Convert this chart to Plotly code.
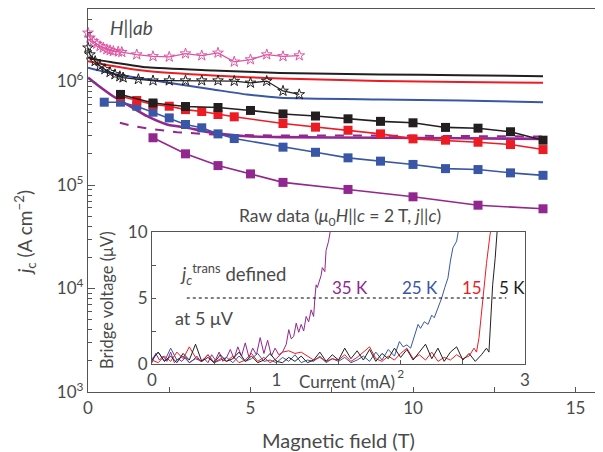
import plotly.graph_objects as go

# ---------------- main panel data: jc vs magnetic field ----------------
field_pink_star = [0.0, 0.06, 0.16, 0.27, 0.37, 0.47, 0.58, 0.68, 0.78, 0.93, 1.04, 1.5, 2.0, 2.5, 3.0, 3.5, 4.0, 4.5, 5.0, 5.5, 6.0, 6.5]
jc_pink_star = [2.95e6, 2.64e6, 2.45e6, 2.31e6, 2.19e6, 2.12e6, 2.04e6, 2.0e6, 1.96e6, 1.94e6, 1.92e6, 1.82e6, 1.75e6, 1.73e6, 1.86e6, 1.78e6, 1.89e6, 1.55e6, 1.63e6, 1.82e6, 1.75e6, 1.78e6]

field_black_star = [0.0, 0.06, 0.22, 0.37, 0.52, 0.68, 0.83, 0.98, 1.08, 1.55, 2.0, 2.5, 3.0, 3.5, 4.0, 4.5, 5.0, 5.5, 6.0, 6.5]
jc_black_star = [2.12e6, 1.82e6, 1.57e6, 1.41e6, 1.31e6, 1.23e6, 1.17e6, 1.12e6, 1.09e6, 1.05e6, 1.02e6, 1.02e6, 1.02e6, 1.02e6, 1.02e6, 1.01e6, 0.97e6, 1.01e6, 0.81e6, 0.75e6]

field_black_line = [0.0, 0.37, 0.77, 1.82, 3.85, 5.91, 8.98, 11.45, 14.0]
jc_black_line = [1.71e6, 1.6e6, 1.53e6, 1.37e6, 1.28e6, 1.21e6, 1.17e6, 1.15e6, 1.125e6]
field_red_line = [0.0, 0.77, 1.82, 3.85, 5.91, 8.98, 11.45, 14.0]
jc_red_line = [1.57e6, 1.41e6, 1.26e6, 1.14e6, 1.07e6, 1.01e6, 0.99e6, 0.97e6]
field_blue_line = [0.0, 0.77, 1.82, 2.83, 3.85, 4.89, 5.91, 8.98, 11.45, 14.0]
jc_blue_line = [1.36e6, 1.19e6, 1.05e6, 0.935e6, 0.837e6, 0.749e6, 0.696e6, 0.67e6, 0.655e6, 0.631e6]
field_purple_line = [0.0, 0.27, 0.77, 1.29, 1.82, 2.43, 3.05, 3.85, 4.89, 5.91, 8.98, 11.45, 14.0]
jc_purple_line = [1.09e6, 0.935e6, 0.72e6, 0.577e6, 0.462e6, 0.384e6, 0.357e6, 0.319e6, 0.296e6, 0.29e6, 0.286e6, 0.283e6, 0.279e6]
field_purple_dash = [0.98, 1.29, 1.91, 2.74, 3.85, 5.91, 8.98, 11.45, 14.0]
jc_purple_dash = [0.4e6, 0.376e6, 0.349e6, 0.324e6, 0.307e6, 0.3e6, 0.3e6, 0.297e6, 0.294e6]

field_black_sq = [1, 2, 3, 4, 5, 6, 7, 8, 9, 10, 11, 12, 13, 14]
jc_black_sq = [0.75e6, 0.62e6, 0.573e6, 0.561e6, 0.525e6, 0.486e6, 0.464e6, 0.436e6, 0.412e6, 0.399e6, 0.36e6, 0.354e6, 0.327e6, 0.271e6]
field_red_sq = [1, 1.5, 2, 2.5, 3, 3.5, 4, 4.5, 6, 7, 8, 9, 10, 11, 12, 13, 14]
jc_red_sq = [0.72e6, 0.655e6, 0.6e6, 0.577e6, 0.535e6, 0.513e6, 0.48e6, 0.456e6, 0.393e6, 0.362e6, 0.338e6, 0.312e6, 0.279e6, 0.271e6, 0.259e6, 0.246e6, 0.22e6]
field_blue_sq = [0.5, 1, 1.5, 2, 2.5, 3, 3.5, 4, 4.5, 6, 7, 8, 9, 10, 11, 12, 13, 14]
jc_blue_sq = [0.631e6, 0.631e6, 0.577e6, 0.505e6, 0.445e6, 0.384e6, 0.357e6, 0.312e6, 0.281e6, 0.232e6, 0.207e6, 0.183e6, 0.17e6, 0.158e6, 0.144e6, 0.141e6, 0.131e6, 0.124e6]
field_purple_sq = [2, 3, 4, 5, 6, 8, 10, 12, 14]
jc_purple_sq = [0.286e6, 0.2e6, 0.154e6, 0.128e6, 0.106e6, 0.0906e6, 0.0769e6, 0.0638e6, 0.0589e6]

main_x_ticks = [0, 5, 10, 15]
main_x_labels = ["0", "5", "10", "15"]
main_y_ticks = [1e3, 1e4, 1e5, 1e6]
main_y_labels = ["10<sup>3</sup>", "10<sup>4</sup>", "10<sup>5</sup>", "10<sup>6</sup>"]

# ---------------- inset data: bridge voltage vs current ----------------
cur_35 = [0.00, 0.03, 0.06, 0.09, 0.12, 0.15, 0.18, 0.21, 0.24, 0.27, 0.30, 0.33, 0.36, 0.39, 0.42, 0.45, 0.48, 0.51, 0.54, 0.57,
          0.60, 0.63, 0.66, 0.69, 0.72, 0.75, 0.78, 0.81, 0.84, 0.87, 0.90, 0.93, 0.96, 0.99, 1.02, 1.05, 1.08,
          1.10, 1.12, 1.14, 1.16, 1.18, 1.20, 1.22, 1.24, 1.26, 1.28, 1.30,
          1.31, 1.32, 1.33, 1.35, 1.36, 1.37, 1.39, 1.40, 1.42, 1.44]
v_35 = [0.1, 0.8, 0.3, 0.6, 0.2, 0.9, 0.1, 0.4, 0.2, 0.5, 0.1, 0.3, 0.6, 0.2, 0.4, 0.1, 0.7, 0.3, 0.9, 0.2,
        0.5, 1.1, 0.4, 1.3, 0.6, 1.6, 0.5, 1.2, 0.7, 2.0, 0.8, 1.8, 0.6, 1.2, 0.7, 0.9, 1.5,
        2.6, 1.9, 2.1, 3.1, 2.4, 3.0, 2.5, 3.6, 3.2, 4.1, 3.6,
        5.0, 6.0, 5.8, 6.4, 6.7, 7.3, 7.0, 8.6, 9.3, 10.4]

cur_25 = [0.00, 0.05, 0.10, 0.15, 0.20, 0.25, 0.30, 0.35, 0.40, 0.45, 0.50, 0.55, 0.60, 0.65, 0.70, 0.75, 0.80, 0.85, 0.90, 0.95,
          1.00, 1.05, 1.10, 1.15, 1.20, 1.25, 1.30, 1.35, 1.40, 1.45, 1.50, 1.55, 1.60, 1.65, 1.70, 1.75, 1.80, 1.85, 1.90, 1.95,
          1.99, 2.02, 2.05, 2.08, 2.11, 2.14, 2.16, 2.19, 2.22, 2.25, 2.27, 2.30, 2.33, 2.355, 2.38, 2.40, 2.42, 2.45, 2.47]
v_25 = [0.4, 0.9, 0.2, 1.2, 0.3, 0.6, 0.1, 0.4, 0.2, 0.7, 0.1, 0.3, 0.5, 0.1, 0.6, 0.2, 0.4, 0.8, 0.2, 0.3,
        0.1, 0.5, 0.2, 0.7, 0.1, 0.3, 0.2, 0.6, 0.1, 0.4, 0.2, 0.5, 0.1, 0.3, 0.6, 0.2, 0.9, 0.3, 1.1, 0.6,
        1.7, 1.3, 1.45, 1.2, 2.2, 3.0, 2.7, 3.2, 3.0, 3.7, 3.5, 4.25, 5.0, 5.8, 6.5, 7.8, 8.8, 9.3, 10.4]

cur_15 = [0.00, 0.05, 0.10, 0.15, 0.20, 0.25, 0.30, 0.35, 0.40, 0.45, 0.50, 0.55, 0.60, 0.65, 0.70, 0.75, 0.80, 0.85, 0.90, 0.95,
          1.00, 1.05, 1.10, 1.15, 1.20, 1.25, 1.30, 1.35, 1.40, 1.45, 1.50, 1.55, 1.60, 1.65, 1.70, 1.75, 1.80, 1.85, 1.90, 1.95,
          2.00, 2.05, 2.10, 2.15, 2.20, 2.25, 2.30, 2.35, 2.40, 2.45, 2.50, 2.55,
          2.59, 2.61, 2.63, 2.64, 2.66, 2.69, 2.72, 2.74]
v_15 = [0.3, 0.1, 0.6, 0.2, 0.9, 0.4, 1.3, 0.5, 0.2, 0.7, 0.1, 0.4, 0.2, 0.6, 0.1, 0.3, 0.8, 0.2, 0.5, 0.1,
        0.4, 0.9, 1.0, 0.8, 0.9, 0.6, 0.3, 0.5, 0.2, 0.4, 0.3, 0.7, 0.2, 0.5, 0.9, 1.3, 0.4, 0.2, 0.6, 0.3,
        0.8, 1.2, 0.4, 0.7, 0.3, 0.9, 0.2, 0.5, 0.3, 0.7, 0.4, 0.6,
        1.2, 0.9, 2.0, 3.0, 5.0, 7.6, 9.9, 10.6]

cur_5 = [0.00, 0.05, 0.10, 0.15, 0.20, 0.25, 0.30, 0.35, 0.40, 0.45, 0.50, 0.55, 0.60, 0.65, 0.70, 0.75, 0.80, 0.85, 0.90, 0.95,
         1.00, 1.05, 1.10, 1.15, 1.20, 1.25, 1.30, 1.35, 1.40, 1.45, 1.50, 1.55, 1.60, 1.65, 1.70, 1.75, 1.80, 1.85, 1.90, 1.95,
         2.00, 2.05, 2.10, 2.15, 2.20, 2.25, 2.30, 2.35, 2.40, 2.45, 2.50, 2.55, 2.60, 2.65,
         2.69, 2.71, 2.72, 2.73, 2.74, 2.76, 2.77, 2.78]
v_5 = [0.3, 0.9, 0.2, 0.6, 0.1, 0.8, 0.3, 1.5, 0.2, 0.5, 0.1, 0.7, 0.2, 0.4, 0.9, 0.2, 0.6, 0.1, 0.3, 0.8,
       0.2, 0.1, 0.5, 0.2, 0.6, 0.1, 0.3, 0.9, 0.2, 0.7, 0.3, 1.2, 0.4, 1.0, 0.3, 1.1, 0.2, 0.8, 0.4, 1.2,
       0.5, 1.1, 0.3, 0.9, 1.5, 0.4, 1.2, 0.2, 0.9, 1.3, 0.3, 0.8, 0.2, 0.7,
       1.2, 0.9, 2.5, 4.25, 6.0, 8.0, 10.0, 10.6]

threshold_cur = [0.28, 2.85]
threshold_v = [5, 5]

inset_x_ticks = [0, 1, 2, 3]
inset_x_labels = ["0", "1", "<sup>2</sup>", "3"]
inset_y_ticks = [0, 5, 10]
inset_y_labels = ["0", "5", "10"]

# ---------------- styling ----------------
# the page body has an 8 px margin, so the figure is 8 px smaller each way
OFF = 8
W, H = 603 - OFF, 452 - OFF
BLACK = "#231f20"
RED = "#ed1c24"
BLUE = "#3a56a6"
PURPLE = "#92278f"
PINK = "#dd55a2"
TXT = "#4a4a4a"
AX = "#555555"
FONT = "Lato"


def px(x):
    return (x - OFF) / W


def py(y):
    return 1 - (y - OFF) / H


fig = go.Figure()

# solid continuous curves
for fx, fy, col, w in [(field_black_line, jc_black_line, BLACK, 2),
                       (field_red_line, jc_red_line, RED, 2),
                       (field_blue_line, jc_blue_line, BLUE, 2),
                       (field_purple_line, jc_purple_line, PURPLE, 2.6)]:
    fig.add_trace(go.Scatter(x=fx, y=fy, mode="lines", line=dict(color=col, width=w, shape="spline", smoothing=0.6),
                             showlegend=False, xaxis="x", yaxis="y"))
fig.add_trace(go.Scatter(x=field_purple_dash, y=jc_purple_dash, mode="lines",
                         line=dict(color=PURPLE, width=2, dash="dash"), showlegend=False, xaxis="x", yaxis="y"))

# square-marker series
for fx, fy, col in [(field_purple_sq, jc_purple_sq, PURPLE),
                    (field_blue_sq, jc_blue_sq, BLUE),
                    (field_red_sq, jc_red_sq, RED),
                    (field_black_sq, jc_black_sq, BLACK)]:
    fig.add_trace(go.Scatter(x=fx, y=fy, mode="lines+markers", line=dict(color=col, width=1.6),
                             marker=dict(symbol="square", size=9, color=col),
                             showlegend=False, xaxis="x", yaxis="y"))

# star series
for fx, fy, col in [(field_pink_star, jc_pink_star, PINK),
                    (field_black_star, jc_black_star, BLACK)]:
    fig.add_trace(go.Scatter(x=fx, y=fy, mode="lines+markers", line=dict(color=col, width=1.3),
                             marker=dict(symbol="star-open", size=8, color=col, line=dict(width=1)),
                             cliponaxis=False, showlegend=False, xaxis="x", yaxis="y"))

# inset traces
for cx, cv, col in [(cur_35, v_35, PURPLE), (cur_25, v_25, BLUE), (cur_15, v_15, RED), (cur_5, v_5, BLACK)]:
    fig.add_trace(go.Scatter(x=cx, y=cv, mode="lines", line=dict(color=col, width=1),
                             showlegend=False, xaxis="x2", yaxis="y2"))
fig.add_trace(go.Scatter(x=threshold_cur, y=threshold_v, mode="lines",
                         line=dict(color="black", width=1, dash="dot"), showlegend=False, xaxis="x2", yaxis="y2"))

tickfont = dict(family=FONT, size=17, color=TXT)

fig.update_layout(
    width=W, height=H,
    margin=dict(l=0, r=0, t=0, b=0, pad=0, autoexpand=False),
    paper_bgcolor="white", plot_bgcolor="white",
    font=dict(family=FONT, color=TXT),
    xaxis=dict(domain=[px(88), px(602)], range=[0, 15.815], anchor="y", automargin=False,
               showline=True, linecolor=AX, linewidth=1.2, mirror=True,
               ticks="inside", ticklen=5, tickcolor=AX, tickvals=main_x_ticks, ticktext=main_x_labels,
               minor=dict(ticks="inside", ticklen=5, tickcolor=AX, dtick=2.5),
               showgrid=False, zeroline=False, tickfont=tickfont),
    yaxis=dict(domain=[py(392), py(9)], type="log", range=[3, 6.7005], anchor="x", automargin=False,
               showline=True, linecolor=AX, linewidth=1.2,
               ticks="inside", ticklen=7, tickcolor=AX, tickvals=main_y_ticks, ticktext=main_y_labels,
               minor=dict(ticks="inside", ticklen=4, tickcolor=AX, dtick="D1", showgrid=False),
               showgrid=False, zeroline=False, tickfont=tickfont),
    xaxis2=dict(domain=[px(152), px(525)], range=[0, 3], anchor="y2", automargin=False,
                showline=True, linecolor=AX, linewidth=1.2, mirror=True,
                ticks="inside", ticklen=4, tickcolor=AX, tickvals=inset_x_ticks, ticktext=inset_x_labels,
                minor=dict(ticks="inside", ticklen=4, tickcolor=AX, dtick=0.5),
                showgrid=False, zeroline=False, tickfont=tickfont),
    yaxis2=dict(domain=[py(364), py(232)], range=[0, 10], anchor="x2", automargin=False,
                showline=True, linecolor=AX, linewidth=1.2, mirror=True,
                ticks="inside", ticklen=4, tickcolor=AX, tickvals=inset_y_ticks, ticktext=inset_y_labels,
                minor=dict(ticks="inside", ticklen=4, tickcolor=AX, dtick=2.5),
                showgrid=False, zeroline=False, tickfont=tickfont),
)


def note(text, x, y, size=17, color=TXT, xanchor="center", angle=0):
    fig.add_annotation(text=text, x=px(x), y=py(y), xref="paper", yref="paper",
                       xanchor=xanchor, yanchor="middle", showarrow=False, textangle=angle,
                       font=dict(family=FONT, size=size, color=color))


note("<i>H</i>||<i>ab</i>", 108, 28, size=19, xanchor="left")
note("Magnetic field (T)", 338, 440, size=20)
note("<i>j</i><sub>c</sub> (A cm<sup>−2</sup>)", 25, 233, size=19, angle=-90)
note("Raw data (<i>μ</i><sub>0</sub><i>H</i>||<i>c</i> = 2 T, <i>j</i>||<i>c</i>)", 340, 217, size=17.5)
note("Bridge voltage (μV)", 107, 300, size=16.5, angle=-90)
note("Current (mA)", 347, 381, size=17)
note("<i>j<sub>c</sub></i><sup>trans</sup> defined", 178, 274, size=18.5, xanchor="left")
note("at 5 μV", 173, 318, size=18, xanchor="left")
note("35 K", 330, 287, size=17, color=PURPLE, xanchor="left")
note("25 K", 400, 287, size=17, color=BLUE, xanchor="left")
note("15", 460, 287, size=17, color=RED, xanchor="left")
note("5 K", 497, 287, size=17, color=BLACK, xanchor="left")

fig.write_html("out.html")
